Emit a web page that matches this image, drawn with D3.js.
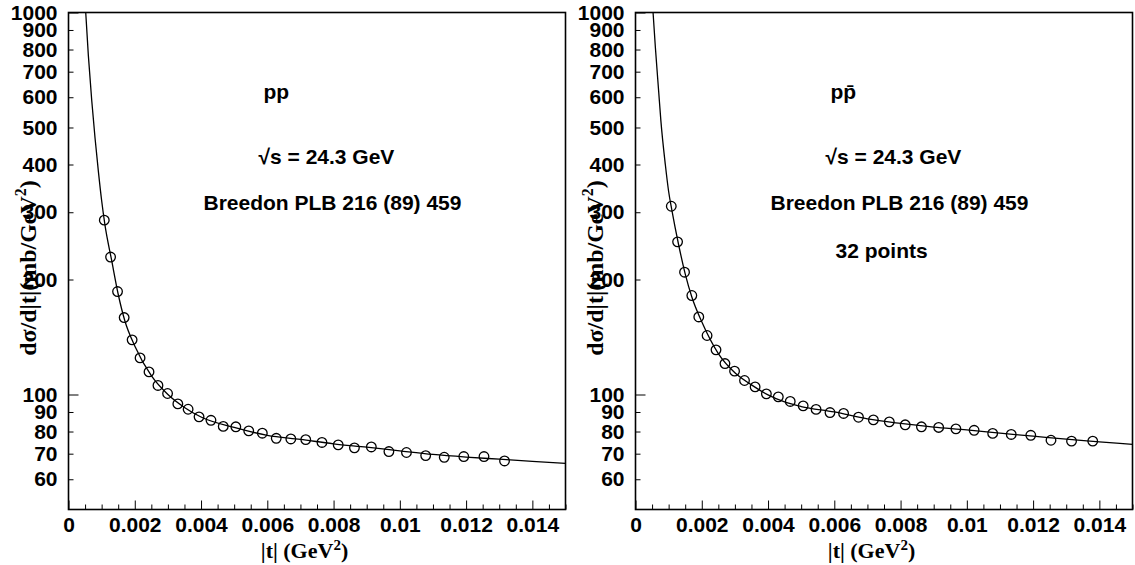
<!DOCTYPE html>
<html><head><meta charset="utf-8">
<script src="https://cdn.jsdelivr.net/npm/d3@7"></script>
<style>
body{margin:0;background:#fff;}
svg{display:block;}
.tick text{font-family:"Liberation Sans",Arial,sans-serif;font-weight:bold;font-size:21px;fill:#000;}
.lbl{font-family:"Liberation Sans",Arial,sans-serif;font-weight:bold;font-size:21px;fill:#000;}
.ttl{font-family:"Liberation Serif","Times New Roman",serif;font-weight:bold;font-size:24px;fill:#000;}
.xttl{font-size:22px;}
</style></head>
<body>
<script>
// ---- data (|t| in GeV^2, dσ/d|t| in mb/GeV^2) ----
const ppT = [0.00108,0.00127,0.00148,0.00168,0.00192,0.00216,0.00243,0.00270,0.00299,0.00330,0.00361,0.00394,0.00430,0.00467,0.00505,0.00544,0.00585,0.00627,0.00671,0.00716,0.00765,0.00814,0.00863,0.00914,0.00967,0.01020,0.01078,0.01134,0.01193,0.01254,0.01316];
const ppV = [286,229,186,159,139,124.7,114.6,105.6,100.6,94.5,91.5,87.4,85.6,82.5,82.3,80.3,79.2,76.8,76.5,76.2,74.9,73.8,72.5,72.9,70.9,70.5,69.2,68.5,68.8,68.8,67.0];
const pbarT = [0.00108,0.00127,0.00148,0.00170,0.00191,0.00216,0.00243,0.00270,0.00299,0.00329,0.00361,0.00395,0.00431,0.00467,0.00506,0.00545,0.00587,0.00628,0.00673,0.00718,0.00766,0.00814,0.00863,0.00915,0.00967,0.01022,0.01078,0.01134,0.01193,0.01254,0.01316,0.01380];
const pbarV = [311,251,209,181.6,159.6,142.7,130.9,120.5,115.1,108.8,104.7,100.4,98.6,95.9,93.4,91.4,89.7,89.2,87.2,85.8,84.8,83.3,82.3,82.0,81.3,80.6,79.1,78.6,78.2,75.9,75.5,75.5];
// fitted curves
const ppCurveT = [0.00052,0.0006,0.0007,0.0008,0.0009,0.0010,0.0011,0.0013,0.0015,0.0017,0.0020,0.0025,0.0030,0.0035,0.0040,0.0050,0.0060,0.0070,0.0080,0.0090,0.0100,0.0110,0.0120,0.0130,0.0140,0.0150];
const ppCurveV = [1000,770,590,470,385,322,278,225,183,156,134,112,100,92.5,87.3,82,78.2,76.3,74.3,72.8,71.2,69.7,68.6,67.7,66.8,66.0];
const pbarCurveT = [0.00053,0.0006,0.0007,0.000765,0.0009,0.0010,0.0011,0.0013,0.0015,0.0017,0.0020,0.0025,0.0030,0.0035,0.0040,0.0045,0.0050,0.0060,0.0070,0.0080,0.0090,0.0100,0.0110,0.0120,0.0130,0.0140,0.0150];
const pbarCurveV = [1000,810,620,522,400,340,303,247,207,180,155,128,114,106,99.8,95.6,93,90,86.3,84,82.2,80.8,79.2,77.8,76.4,75.2,74.0];
// axis ticks
const xTicksMajor = [0,0.002,0.004,0.006,0.008,0.010,0.012,0.014];
const xTickLabels = ["0","0.002","0.004","0.006","0.008","0.01","0.012","0.014"];
const yTicks = [60,70,80,90,100,200,300,400,500,600,700,800,900,1000];
const yTickLabels = ["60","70","80","90","100","200","300","400","500","600","700","800","900","1000"];
const panelTexts = [
  ["pp","√s = 24.3 GeV","Breedon PLB 216 (89) 459"],
  ["pp̄","√s = 24.3 GeV","Breedon PLB 216 (89) 459","32 points"]
];

const W=1135,H=565;
const svg=d3.select("body").append("svg").attr("width",W).attr("height",H);

function panel(x0, T, V, CT, CV, texts, idx){
  const w=497, top=12.5, bot=509.5;
  const x=d3.scaleLinear().domain([0,0.015]).range([x0,x0+w]);
  const y=d3.scaleLog().domain([50,1000]).range([bot,top]);
  const g=svg.append("g");
  const cid="clip"+idx;
  svg.append("clipPath").attr("id",cid).append("rect").attr("x",x0).attr("y",top).attr("width",w).attr("height",bot-top);

  // x axis
  const minorX=d3.range(0,0.0150001,0.0005);
  const xa=g.append("g").attr("transform",`translate(0,${bot})`)
    .call(d3.axisBottom(x).tickValues(minorX).tickSizeInner(-5).tickSizeOuter(0).tickPadding(8)
      .tickFormat(d=>{const i=xTicksMajor.findIndex(v=>Math.abs(v-d)<1e-9);return i>=0?xTickLabels[i]:"";}));
  xa.select(".domain").remove();
  xa.selectAll(".tick line").attr("y2",d=>xTicksMajor.some(v=>Math.abs(v-d)<1e-9)?-9:-5).attr("stroke","#000").attr("stroke-width",1);
  // y axis
  const ya=g.append("g").attr("transform",`translate(${x0},0)`)
    .call(d3.axisLeft(y).tickValues(yTicks).tickSizeInner(-5).tickSizeOuter(0).tickPadding(11)
      .tickFormat((d,i)=>yTickLabels[i]));
  ya.select(".domain").remove();
  ya.selectAll(".tick line").attr("x2",d=>(d===100||d===1000)?10:5).attr("stroke","#000").attr("stroke-width",1);

  // frame
  g.append("rect").attr("x",x0).attr("y",top).attr("width",w).attr("height",bot-top)
    .attr("fill","none").attr("stroke","#000").attr("stroke-width",1.6);

  // curve
  const line=d3.line().x(d=>x(d[0])).y(d=>y(d[1])).curve(d3.curveMonotoneX);
  g.append("path").datum(CT.map((t,i)=>[t,CV[i]])).attr("d",line)
    .attr("clip-path",`url(#${cid})`).attr("fill","none").attr("stroke","#000").attr("stroke-width",1.3);

  // points
  g.selectAll("circle.pt").data(T.map((t,i)=>[t,V[i]])).enter().append("circle")
    .attr("cx",d=>x(d[0])).attr("cy",d=>y(d[1])).attr("r",4.8)
    .attr("fill","none").attr("stroke","#000").attr("stroke-width",1.3);

  // texts
  const tx=[[x0+195,99],[x0+190,164],[x0+135,210],[x0+200,258]];
  texts.forEach((s,i)=>{
    g.append("text").attr("class","lbl").attr("x",tx[i][0]).attr("y",tx[i][1]).text(s);
  });

  // axis titles
  const xt=g.append("text").attr("class","ttl xttl").attr("x",x0+236).attr("y",558).attr("text-anchor","middle");
  xt.append("tspan").text("|t| (GeV");
  xt.append("tspan").attr("dy",-8).attr("font-size",15).text("2");
  xt.append("tspan").attr("dy",8).text(")");
  const yt=g.append("text").attr("class","ttl").attr("transform",`translate(${x0-33},268) rotate(-90)`).attr("text-anchor","middle");
  yt.append("tspan").text("dσ/d|t|(mb/GeV");
  yt.append("tspan").attr("dy",-10).attr("font-size",16).text("2");
  yt.append("tspan").attr("dy",10).text(")");
}

panel(68.5, ppT, ppV, ppCurveT, ppCurveV, panelTexts[0], 0);
panel(635.5, pbarT, pbarV, pbarCurveT, pbarCurveV, panelTexts[1], 1);
</script>
</body></html>
